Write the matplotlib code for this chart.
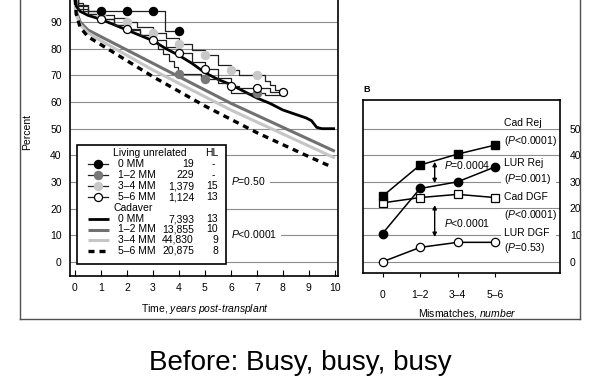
import matplotlib
matplotlib.use('Agg')
import matplotlib.pyplot as plt
from matplotlib.lines import Line2D
from matplotlib.patches import Rectangle

plt.rcParams['font.family'] = ['Liberation Sans', 'DejaVu Sans']
plt.rcParams['mathtext.fontset'] = 'custom'
plt.rcParams['mathtext.rm'] = 'Liberation Sans'
plt.rcParams['mathtext.it'] = 'Liberation Sans:italic'

# ---------------- data: panel A (graft survival, %) ----------------
years = list(range(0, 11))

cad0_t = [0, 0.05, 0.2, 0.5, 1, 1.5, 2, 2.5, 3, 3.5, 4, 4.5, 5, 5.5, 6, 6.5, 7, 7.5, 8, 8.3, 8.6, 8.9, 9.1, 9.3, 9.5, 9.95]
cad0_v = [100, 96, 94, 92.5, 91, 89, 87, 85, 83, 80, 77.5, 74.5, 71, 68.5, 66.5, 64, 61.5, 59.5, 57, 56, 55, 54, 53, 50.5, 50, 50]
cad12_t = [0, 0.05, 0.2, 0.5, 1, 2, 3, 4, 5, 6, 7, 8, 9, 10]
cad12_v = [100, 94, 90, 87, 84.5, 79.5, 74.5, 69.5, 64.5, 59.5, 55, 50.5, 46, 41.5]
cad34_t = [0, 0.05, 0.2, 0.5, 1, 2, 3, 4, 5, 6, 7, 8, 9, 10]
cad34_v = [100, 93, 89, 86, 83, 77.5, 72, 67, 62, 57, 52.5, 48, 43.5, 39]
cad56_t = [0, 0.05, 0.2, 0.5, 1, 2, 3, 4, 5, 6, 7, 8, 9, 9.8]
cad56_v = [100, 93, 88, 84.5, 81.5, 75.5, 69.5, 64, 58.5, 53.5, 48.5, 44, 39.5, 36]

lur0_t = [0, 0.1, 0.3, 3.45, 4.0]
lur0_v = [100, 97, 94.3, 86.6, 86.6]
lur0_mt = [1, 2, 3, 4]
lur0_mv = [94.3, 94.3, 94.3, 86.6]

lur12_t = [0, 0.1, 0.5, 1, 1.5, 2, 2.5, 3, 3.2, 3.4, 3.6, 3.8, 3.95, 4.85, 5.5, 6.0, 7.3, 7.9]
lur12_v = [100, 95, 93, 91, 89, 87, 85, 82.5, 80, 78, 75.5, 73, 70.5, 68.6, 67, 63.2, 62.5, 62.5]
lur12_mt = [4, 5, 7]
lur12_mv = [70.5, 68.6, 63.2]

lur34_t = [0, 0.1, 0.5, 1, 1.5, 2, 2.4, 3, 3.5, 4, 4.5, 5, 5.5, 6, 6.3, 7, 7.3, 7.5, 7.7, 7.9]
lur34_v = [100, 96.5, 94, 92.5, 91.5, 90, 88, 85.7, 84, 81.6, 79.5, 77.6, 74, 72, 70, 70, 68, 66.5, 64.5, 63.5]
lur34_mt = [1, 2, 3, 4, 5, 6, 7]
lur34_mv = [92.5, 90, 85.7, 81.6, 77.6, 72, 70]

lur56_t = [0, 0.1, 0.5, 1, 1.5, 2, 2.5, 3, 3.5, 4, 4.5, 5, 5.5, 6, 6.3, 7.5, 8]
lur56_v = [100, 96, 93, 91.1, 89, 87.4, 85, 83.2, 80.5, 78.2, 75, 72.4, 69, 66, 65.2, 63.6, 63.6]
lur56_mt = [1, 2, 3, 4, 5, 6, 7, 8]
lur56_mv = [91.1, 87.4, 83.2, 78.2, 72.4, 66, 65.2, 63.6]

legend_names = ['0 MM', '1\u20132 MM', '3\u20134 MM', '5\u20136 MM']
lur_n = ['19', '229', '1,379', '1,124']
lur_hl = ['-', '-', '15', '13']
cad_n = ['7,393', '13,855', '44,830', '20,875']
cad_hl = ['13', '10', '9', '8']

# ---------------- data: panel B ----------------
mm_cats = ['0', '1\u20132', '3\u20134', '5\u20136']
cad_rej = [24.6, 36.3, 40.4, 43.8]
lur_rej = [10.6, 27.5, 30.0, 35.6]
cad_dgf = [22.1, 24.1, 25.3, 24.1]
lur_dgf = [0.0, 5.4, 7.3, 7.3]

W, H = 600, 376
fig = plt.figure(figsize=(6, 3.76), dpi=100)


def fx(px):
    return px / W


def fy(py):
    return 1 - py / H


GRID = '#8c8c8c'
FS = 7.5

# ---------------- panel A ----------------
axA = fig.add_axes([fx(70), fy(276), fx(338) - fx(70), fy(0) - fy(276)])
axA.set_xlim(-0.19, 10.12)
axA.set_ylim(-5.25, 98.25)
axA.set_yticks(range(0, 91, 10))
axA.set_xticks(years)
axA.grid(axis='y', color=GRID, lw=0.8)
axA.set_axisbelow(True)
axA.spines['top'].set_visible(False)
for s in ['left', 'bottom', 'right']:
    axA.spines[s].set_linewidth(1.2)
axA.tick_params(axis='x', direction='in', length=4, width=0.8, pad=5, labelsize=FS)
axA.tick_params(axis='y', length=0, pad=6, labelsize=FS)

axA.plot(cad12_t, cad12_v, color='#707070', lw=2.2, zorder=2, solid_capstyle='butt')
axA.plot(cad34_t, cad34_v, color='#c6c6c6', lw=2.2, zorder=2, solid_capstyle='butt')
axA.plot(cad56_t, cad56_v, color='black', lw=2.4, ls=(0, (1.8, 1.5)), zorder=2)
axA.plot(cad0_t, cad0_v, color='black', lw=2.0, zorder=2.5)

for t, v in [(lur34_t, lur34_v), (lur12_t, lur12_v), (lur56_t, lur56_v), (lur0_t, lur0_v)]:
    axA.step(t, v, where='post', color='#202020', lw=0.9, zorder=3)

ms = 5.8
axA.plot(lur34_mt, lur34_mv, ls='none', marker='o', ms=ms, mfc='#c8c8c8', mec='#c8c8c8', zorder=4)
axA.plot(lur12_mt, lur12_mv, ls='none', marker='o', ms=ms, mfc='#787878', mec='#787878', zorder=4)
axA.plot(lur56_mt, lur56_mv, ls='none', marker='o', ms=ms, mfc='white', mec='black', mew=0.9, zorder=4.5)
axA.plot(lur0_mt, lur0_mv, ls='none', marker='o', ms=ms, mfc='black', mec='black', zorder=4.5)

fig.text(fx(27), fy(132), 'Percent', rotation=90, ha='center', va='center', fontsize=FS)
fig.text(fx(205), fy(309), 'Time, $\\mathit{years\\ post}$-$\\mathit{transplant}$', ha='center', va='center', fontsize=FS)

# legend box geometry (pixels)
LB_L, LB_R, LB_T, LB_B = 77, 226, 145, 264

# P-value labels in panel A
fig.add_artist(Rectangle((fx(LB_R), fy(187)), fx(270) - fx(LB_R), fy(175) - fy(187),
                         transform=fig.transFigure, fc='white', ec='none', zorder=1.5))
fig.text(fx(231), fy(181), '$\\mathit{P}$=0.50', ha='left', va='center', fontsize=FS, zorder=3)
fig.add_artist(Rectangle((fx(LB_R), fy(240)), fx(281) - fx(LB_R), fy(228) - fy(240),
                         transform=fig.transFigure, fc='white', ec='none', zorder=1.5))
fig.text(fx(231), fy(234), '$\\mathit{P}$<0.0001', ha='left', va='center', fontsize=FS, zorder=3)

# legend box
fig.add_artist(Rectangle((fx(LB_L), fy(LB_B)), fx(LB_R) - fx(LB_L), fy(LB_T) - fy(LB_B),
                         transform=fig.transFigure, fc='white', ec='black', lw=1.2, zorder=2))
fig.text(fx(113), fy(153), 'Living unrelated', ha='left', va='center', fontsize=FS, zorder=3)
fig.text(fx(218), fy(153), 'HL', ha='right', va='center', fontsize=FS, zorder=3)
fig.text(fx(113), fy(208), 'Cadaver', ha='left', va='center', fontsize=FS, zorder=3)

lur_rows = [164, 175, 186, 197]
lur_styles = [dict(mfc='black', mec='black'), dict(mfc='#787878', mec='#787878'),
              dict(mfc='#c8c8c8', mec='#c8c8c8'), dict(mfc='white', mec='black', mew=0.9)]
for i, y in enumerate(lur_rows):
    fig.add_artist(Line2D([fx(88), fx(108)], [fy(y), fy(y)], transform=fig.transFigure,
                          color='#202020', lw=0.9, zorder=3))
    fig.add_artist(Line2D([fx(98)], [fy(y)], transform=fig.transFigure, ls='none',
                          marker='o', ms=ms, zorder=3.5, **lur_styles[i]))
    fig.text(fx(118), fy(y), legend_names[i], ha='left', va='center', fontsize=FS, zorder=3)
    fig.text(fx(194), fy(y), lur_n[i], ha='right', va='center', fontsize=FS, zorder=3)
    fig.text(fx(218) if lur_hl[i] != '-' else fx(215), fy(y), lur_hl[i], ha='right', va='center', fontsize=FS, zorder=3)

cad_rows = [219, 229.5, 240, 250.5]
cad_styles = [dict(color='black', lw=2.0), dict(color='#707070', lw=2.2),
              dict(color='#c6c6c6', lw=2.2), dict(color='black', lw=2.4, ls=(0, (1.8, 1.5)))]
for i, y in enumerate(cad_rows):
    fig.add_artist(Line2D([fx(88), fx(109)], [fy(y), fy(y)], transform=fig.transFigure,
                          zorder=3, solid_capstyle='butt', **cad_styles[i]))
    fig.text(fx(118), fy(y), legend_names[i], ha='left', va='center', fontsize=FS, zorder=3)
    fig.text(fx(194), fy(y), cad_n[i], ha='right', va='center', fontsize=FS, zorder=3)
    fig.text(fx(218), fy(y), cad_hl[i], ha='right', va='center', fontsize=FS, zorder=3)

# ---------------- panel B ----------------
axB = fig.add_axes([fx(363), fy(273), fx(560) - fx(363), fy(100) - fy(273)])
axB.set_xlim(-0.52, 4.73)
axB.set_ylim(-4.2, 60.7)
xpos = list(range(len(mm_cats)))
axB.set_xticks(xpos)
axB.set_xticklabels(mm_cats)
axB.set_yticks(range(0, 51, 10))
axB.yaxis.tick_right()
axB.grid(axis='y', color=GRID, lw=0.8)
axB.set_axisbelow(True)
for s in axB.spines.values():
    s.set_linewidth(1.2)
axB.tick_params(axis='x', direction='out', length=3, width=0.8, pad=9, labelsize=FS)
axB.tick_params(axis='y', length=0, pad=7, labelsize=FS)

bms = 6
axB.plot(xpos, cad_dgf, color='black', lw=1.1, marker='s', ms=bms, mfc='white', mec='black', mew=0.9, zorder=4)
axB.plot(xpos, lur_dgf, color='black', lw=1.1, marker='o', ms=bms, mfc='white', mec='black', mew=0.9, zorder=4)
axB.plot(xpos, lur_rej, color='black', lw=1.1, marker='o', ms=bms, mfc='black', mec='black', zorder=4)
axB.plot(xpos, cad_rej, color='black', lw=1.1, marker='s', ms=bms, mfc='black', mec='black', zorder=4)

arrow_props = dict(arrowstyle='<|-|>', color='black', lw=1.0, mutation_scale=6, shrinkA=0, shrinkB=0)
axB.annotate('', xy=(1.39, 37.5), xytext=(1.39, 29.5), arrowprops=arrow_props, zorder=5)
axB.annotate('', xy=(1.39, 21.3), xytext=(1.39, 9.3), arrowprops=arrow_props, zorder=5)

fig.text(fx(444), fy(165), '$\\mathit{P}$=0.0004', ha='left', va='center', fontsize=FS, zorder=6)
fig.text(fx(444), fy(223), '$\\mathit{P}$<0.0001', ha='left', va='center', fontsize=FS, zorder=6)

side_labels = [(123, 'Cad Rej'), (141, '($\\mathit{P}$<0.0001)'), (163, 'LUR Rej'), (179, '($\\mathit{P}$=0.001)'),
               (197, 'Cad DGF'), (215, '($\\mathit{P}$<0.0001)'), (233, 'LUR DGF'), (248, '($\\mathit{P}$=0.53)')]
for y, s in side_labels:
    fig.add_artist(Rectangle((fx(501), fy(y + 6)), fx(556) - fx(501), fy(y - 6) - fy(y + 6),
                             transform=fig.transFigure, fc='white', ec='none', zorder=1.2))
    fig.text(fx(504), fy(y), s, ha='left', va='center', fontsize=FS, zorder=6)

fig.text(fx(363), fy(89), 'B', ha='left', va='center', fontsize=6.5, fontweight='bold')
fig.text(fx(467), fy(313), 'Mismatches, $\\mathit{number}$', ha='center', va='center', fontsize=FS)

# outer frame
fc = '#505050'
fig.add_artist(Line2D([fx(20), fx(20)], [fy(319), 1.05], transform=fig.transFigure, color=fc, lw=1.0))
fig.add_artist(Line2D([fx(580), fx(580)], [fy(319), 1.05], transform=fig.transFigure, color=fc, lw=1.0))
fig.add_artist(Line2D([fx(20), fx(580)], [fy(319), fy(319)], transform=fig.transFigure, color=fc, lw=1.0))

# caption
fig.text(0.5, fy(370), 'Before: Busy, busy, busy', ha='center', va='baseline', fontsize=20)

fig.savefig('out.png', dpi=100, facecolor='white')
